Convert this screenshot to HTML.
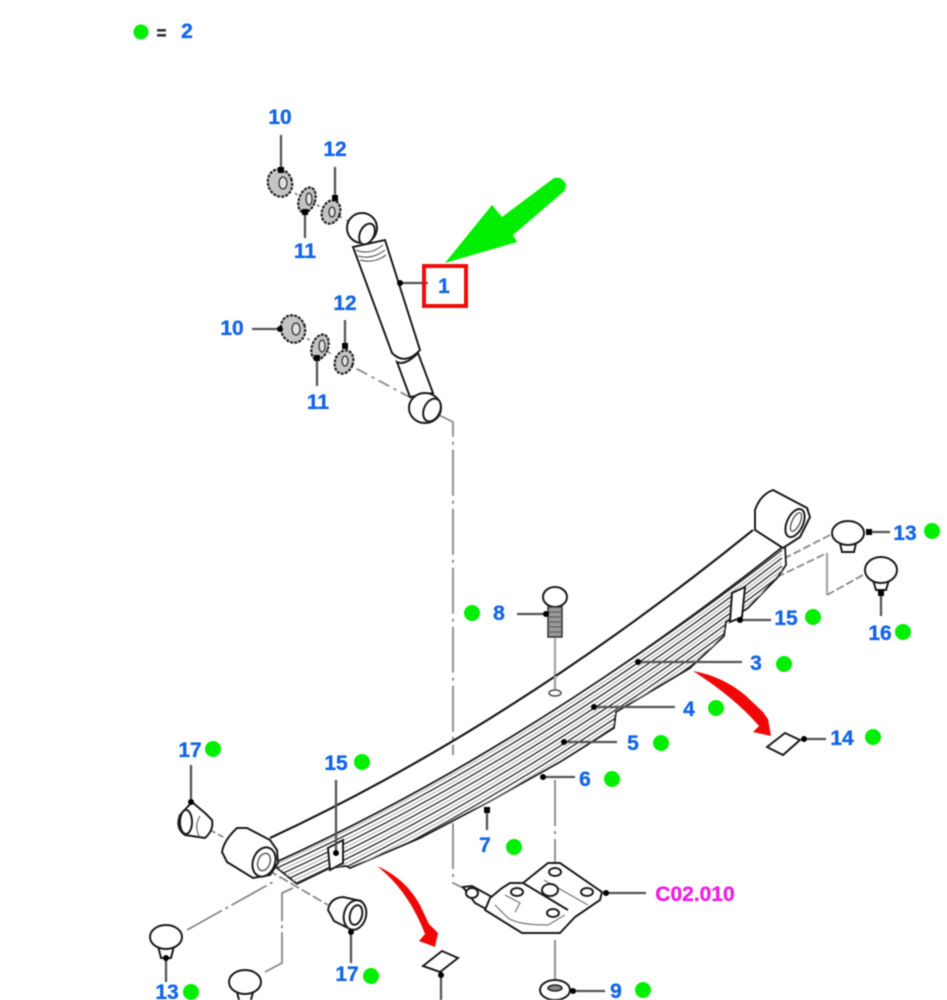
<!DOCTYPE html>
<html>
<head>
<meta charset="utf-8">
<style>
html,body{margin:0;padding:0;background:#fff;width:947px;height:1000px;overflow:hidden}
svg{display:block;filter:blur(.65px)}
text{font-family:"Liberation Sans",sans-serif;font-weight:700;font-size:21px;fill:#1466e6;text-anchor:middle;stroke:#1466e6;stroke-width:.35}
.k{fill:#fff;stroke:#1c1c1c;stroke-width:2}
.n{fill:none;stroke:#1c1c1c;stroke-width:2}
.w{fill:#c4c4c4;stroke:#222;stroke-width:2.2;stroke-dasharray:3 1.2}
.i{fill:#e0e0e0;stroke:#333;stroke-width:1.3}
.l{stroke:#555;stroke-width:2.3;fill:none}
.d{fill:none;stroke:#888;stroke-width:1.8;stroke-dasharray:46 5 3 5}
.t{fill:none;stroke:#888;stroke-width:1.8}
.p{fill:#000}
.g{fill:#00ee00}
</style>
</head>
<body>
<svg width="947" height="1000" viewBox="0 0 947 1000" xmlns="http://www.w3.org/2000/svg">
<defs>
<clipPath id="st"><path d="M272 864Q530 747 785 545L786 565L777 578L748 608L726 622L724 636L690 668L616 712L614 728L560 762L483 805L420 838L350 868L346 866L330 868L297 884Z"/></clipPath>
</defs>

<!-- legend -->
<circle class="g" cx="141" cy="32" r="7.5"/>
<rect x="157" y="29" width="9" height="2.6" fill="#333"/><rect x="157" y="34" width="9" height="2.6" fill="#333"/>
<text x="187" y="38">2</text>

<!-- dash lines -->
<path class="t" stroke-dasharray="12 5 3 5" d="M280 185L307 200L331 212L350 222"/>
<path class="t" stroke-dasharray="12 5 3 5" d="M293 329L320 347L344 362L415 400"/>
<path class="d" d="M425 408L453 422V755"/>
<path class="d" d="M453 823V883L465 889"/>
<path class="t" style="stroke:#aaa;stroke-width:2.4" d="M555 638V690"/>
<path class="d" d="M555 780V865"/>
<path class="t" style="stroke:#999;stroke-width:2.2" d="M555 940V980"/>
<path class="t" stroke-dasharray="40 4 3 4" d="M187 930L273 882"/>
<path class="t" stroke-dasharray="50 4 3 4" d="M265 972L282 963V893L293 888"/>
<path class="t" stroke-dasharray="8 3" d="M830 535L785 558"/>
<path class="t" stroke-dasharray="8 3" d="M777 577L827 553"/>
<path class="t" style="stroke:#aaa;stroke-width:2.4" d="M827 553V595"/>
<path class="t" stroke-dasharray="8 3" d="M827 595L863 575"/>
<path class="t" stroke-dasharray="6 3" d="M210 830L225 838"/>
<path class="t" stroke-dasharray="10 3" d="M268 870L328 905"/>

<!-- shock absorber -->
<path class="k" d="M353 247L392 353Q405 366 420 350L385 240Z"/>
<path class="k" d="M397 362L410 397L433 393L418 353Q405 366 397 362Z"/>
<path class="n" style="stroke-width:1.1;stroke:#555" d="M356 250Q370 256 383 245M358 256Q372 260 385 250M360 260Q374 264 386 255"/>
<ellipse class="k" cx="362" cy="228" rx="15" ry="15"/>
<ellipse class="k" cx="367" cy="234" rx="7" ry="11" transform="rotate(25 367 234)"/>
<ellipse class="k" cx="425" cy="408" rx="16" ry="15"/>
<ellipse class="k" cx="432" cy="410" rx="8" ry="12" transform="rotate(25 432 410)"/>

<!-- washers -->
<ellipse class="w" cx="280" cy="183" rx="12" ry="14" transform="rotate(-20 280 183)"/><ellipse class="i" cx="283" cy="183" rx="4" ry="6"/>
<ellipse class="w" cx="307" cy="200" rx="8" ry="13" transform="rotate(20 307 200)"/><ellipse class="i" cx="309" cy="199" rx="3" ry="6"/>
<ellipse class="w" cx="331" cy="212" rx="9" ry="12" transform="rotate(20 331 212)"/><ellipse class="i" cx="332" cy="212" rx="3" ry="5"/>
<ellipse class="w" cx="293" cy="329" rx="12" ry="14" transform="rotate(-20 293 329)"/><ellipse class="i" cx="296" cy="329" rx="4" ry="6"/>
<ellipse class="w" cx="320" cy="347" rx="8" ry="13" transform="rotate(20 320 347)"/><ellipse class="i" cx="322" cy="346" rx="3" ry="6"/>
<ellipse class="w" cx="344" cy="362" rx="9" ry="12" transform="rotate(20 344 362)"/><ellipse class="i" cx="345" cy="361" rx="3" ry="5"/>

<!-- leaders upper -->
<path class="l" d="M281 135V172M335 167V198M305 212V238M400 283H428M252 329H281M317 358V386M345 320V348"/>
<g class="p"><rect x="278" y="167" width="6" height="6"/><rect x="332" y="195" width="6" height="6"/><rect x="302" y="209" width="6" height="6"/><circle cx="400" cy="283" r="3"/><circle cx="280" cy="329" r="3"/><rect x="314" y="355" width="6" height="6"/><rect x="342" y="343" width="6" height="6"/></g>

<!-- red box and green arrow -->
<rect x="424" y="266" width="42" height="40" fill="none" stroke="#ee0c0c" stroke-width="4"/>
<path class="g" d="M445 263L492 205L502 217L554 178Q562 176 566 184Q566 190 562 193L513 235L517 242Z"/>

<!-- main leaf -->
<path fill="none" stroke="#1c1c1c" stroke-width="2.2" d="M270 838Q511 726 753 530"/>
<path class="t" style="stroke:#aaa;stroke-width:2.4" d="M555 676V690"/>
<ellipse cx="555" cy="693" rx="6" ry="3" fill="#fff" stroke="#555" stroke-width="1.6"/>

<!-- leaf stack -->
<path fill="#fff" stroke="#1c1c1c" stroke-width="1.8" d="M272 864Q530 747 785 545L786 565L777 578L748 608L726 622L724 636L690 668L616 712L614 728L560 762L483 805L420 838L350 868L346 866L330 868L297 884Z"/>
<g clip-path="url(#st)" fill="none">
<g stroke="#b8b8b8" stroke-width="1.2">
<path d="M277 864Q530 749 782 554"/>
<path d="M277 872Q530 757 782 562"/>
<path d="M277 880Q530 765 782 570"/>
<path d="M277 888Q530 773 782 578"/>
<path d="M277 896Q530 781 782 586"/>
<path d="M277 904Q530 789 782 594"/>
<path d="M277 912Q530 797 782 602"/>
<path d="M277 920Q530 805 782 610"/>
</g>
<g stroke="#2c2c2c" stroke-width="1.3">
<path d="M277 860Q530 745 782 550"/>
<path d="M277 868Q530 753 782 558"/>
<path d="M277 876Q530 761 782 566"/>
<path d="M277 884Q530 769 782 574"/>
<path d="M277 892Q530 777 782 582"/>
<path d="M277 900Q530 785 782 590"/>
<path d="M277 908Q530 793 782 598"/>
<path d="M277 916Q530 801 782 606"/>
</g>
</g>

<!-- eyes -->
<path class="k" d="M755 530V510Q760 495 773 490L807 508L810 517L800 537L783 548Z"/>
<ellipse class="k" cx="795" cy="523" rx="8" ry="15" transform="rotate(25 795 523)"/>
<ellipse class="k" style="stroke-width:1.3;stroke:#555" cx="796" cy="522" rx="4" ry="10" transform="rotate(25 796 522)"/>
<path class="k" d="M222 852Q224 840 237 828H247L270 840L277 850L278 863L270 875L253 878L227 862Z"/>
<ellipse class="k" cx="264" cy="862" rx="11" ry="15" transform="rotate(20 264 862)"/>
<ellipse class="k" style="stroke-width:1.4;stroke:#555" cx="264" cy="862" rx="6" ry="9" transform="rotate(20 264 862)"/>

<!-- clips -->
<path class="k" d="M732 593L745 587L742 617L730 622Z"/>
<path class="k" d="M328 848L343 840V863L330 870Z"/>

<!-- bolt 8 -->
<ellipse class="k" cx="555" cy="597" rx="12" ry="10"/>
<rect x="548" y="607" width="14" height="30" fill="#999" stroke="#333" stroke-width="1.5"/>
<path stroke="#555" stroke-width="1" d="M548 612H562M548 617H562M548 622H562M548 627H562M548 632H562"/>

<!-- 17 left -->
<path class="k" d="M192 802L180 815Q175 828 185 835L205 838Q214 830 212 820L205 813Z"/>
<ellipse class="n" cx="186" cy="822" rx="6" ry="12"/>
<path class="n" style="stroke-width:1.1;stroke:#666" d="M200 816Q194 826 199 836"/>
<!-- 17 lower -->
<path class="k" d="M328 910Q330 898 343 897L361 901L352 930L334 921Z"/>
<ellipse class="k" cx="355" cy="915" rx="11" ry="15" transform="rotate(15 355 915)"/>
<ellipse class="k" cx="356" cy="915" rx="6" ry="10" transform="rotate(15 356 915)"/>

<!-- knobs -->
<path class="k" d="M158 946L161 958H171L174 946Z"/><ellipse class="k" cx="166" cy="937" rx="16" ry="12"/>
<path class="k" d="M237 992L240 1004H250L253 992Z"/><ellipse class="k" cx="245" cy="982" rx="16" ry="12"/>
<path class="k" d="M840 543L842 552H854L856 543Z"/><ellipse class="k" cx="848" cy="533" rx="16" ry="12"/>
<path class="k" d="M873 580L876 590H886L889 580Z"/><ellipse class="k" cx="881" cy="570" rx="16" ry="13"/>

<!-- tags -->
<path class="k" d="M767 747L785 733L800 740L783 755Z"/>
<path class="k" d="M423 966L442 951L458 958L440 972Z"/>

<!-- red arrows -->
<path fill="#f00808" d="M693 671Q722 676 745 695L763 712L768 719L771 736L753 732L759 726Q735 698 693 671Z"/>
<path fill="#f00808" d="M377 866Q405 878 420 905L429 924L438 933L435 947L419 941L425 934Q408 890 377 866Z"/>

<!-- plate -->
<path class="k" d="M463 887L472 886L492 897L486 909L475 903Z"/>
<ellipse class="k" cx="472" cy="893" rx="6" ry="5"/>
<path class="k" d="M485 910L490 898L502 888L510 883H523L548 863H560L602 892L600 900L575 917L560 933H522Z"/>
<path class="n" d="M523 883L568 910"/>
<path class="n" style="stroke:#777;stroke-width:1.2" d="M495 905L508 918Q518 925 548 925L565 915M544 880L588 905M505 895L520 903L515 912"/>
<ellipse class="k" cx="555" cy="872" rx="6" ry="4"/><ellipse class="k" cx="587" cy="892" rx="6" ry="4"/><ellipse class="k" cx="517" cy="892" rx="6" ry="4"/><ellipse class="k" cx="553" cy="913" rx="6" ry="4"/><ellipse class="k" cx="550" cy="890" rx="8" ry="6"/>

<!-- nut 9 -->
<ellipse class="k" cx="555" cy="990" rx="15" ry="10"/><ellipse cx="555" cy="988" rx="7" ry="3" fill="#888" stroke="#222" stroke-width="1.5"/>

<!-- leaders lower -->
<path class="l" d="M866 532H890M881 590V616M736 620H771M638 662H742M594 707H675M564 742H617M543 777H575M487 808V830M517 614H546M804 739H826M336 780V853M191 765V802M351 930V963M166 958V982M441 975V1000M606 893H646M573 991H605"/>
<g class="p"><rect x="866" y="529" width="6" height="6"/><rect x="878" y="590" width="6" height="6"/><circle cx="740" cy="620" r="3"/><circle cx="638" cy="662" r="3"/><circle cx="594" cy="707" r="3"/><circle cx="564" cy="742" r="3"/><circle cx="543" cy="777" r="3"/><rect x="484" y="807" width="6" height="6"/><circle cx="546" cy="614" r="3"/><circle cx="804" cy="739" r="3"/><circle cx="336" cy="853" r="3"/><circle cx="191" cy="802" r="3"/><circle cx="351" cy="932" r="3"/><circle cx="166" cy="958" r="3"/><circle cx="441" cy="975" r="3"/><circle cx="606" cy="893" r="3"/><circle cx="573" cy="991" r="3"/></g>

<!-- labels -->
<text x="280" y="124">10</text>
<text x="335" y="156">12</text>
<text x="305" y="258">11</text>
<text x="444" y="293">1</text>
<text x="345" y="310">12</text>
<text x="232" y="335">10</text>
<text x="318" y="409">11</text>
<text x="905" y="540">13</text>
<text x="880" y="640">16</text>
<text x="786" y="625">15</text>
<text x="756" y="670">3</text>
<text x="689" y="716">4</text>
<text x="633" y="750">5</text>
<text x="585" y="786">6</text>
<text x="485" y="852">7</text>
<text x="499" y="620">8</text>
<text x="842" y="745">14</text>
<text x="336" y="770">15</text>
<text x="190" y="757">17</text>
<text x="167" y="999">13</text>
<text x="347" y="981">17</text>
<text x="616" y="998">9</text>
<text x="695" y="901" style="fill:#f01ee0;stroke:#f01ee0">C02.010</text>

<!-- green dots -->
<g class="g">
<circle cx="932" cy="531" r="8"/><circle cx="903" cy="632" r="8"/><circle cx="813" cy="617" r="8"/><circle cx="784" cy="664" r="8"/><circle cx="716" cy="708" r="8"/><circle cx="661" cy="743" r="8"/><circle cx="612" cy="779" r="8"/><circle cx="514" cy="847" r="8"/><circle cx="472" cy="613" r="8"/><circle cx="873" cy="737" r="8"/><circle cx="362" cy="762" r="8"/><circle cx="213" cy="749" r="8"/><circle cx="191" cy="992" r="8"/><circle cx="371" cy="976" r="8"/><circle cx="643" cy="990" r="8"/>
</g>
</svg>
</body>
</html>
